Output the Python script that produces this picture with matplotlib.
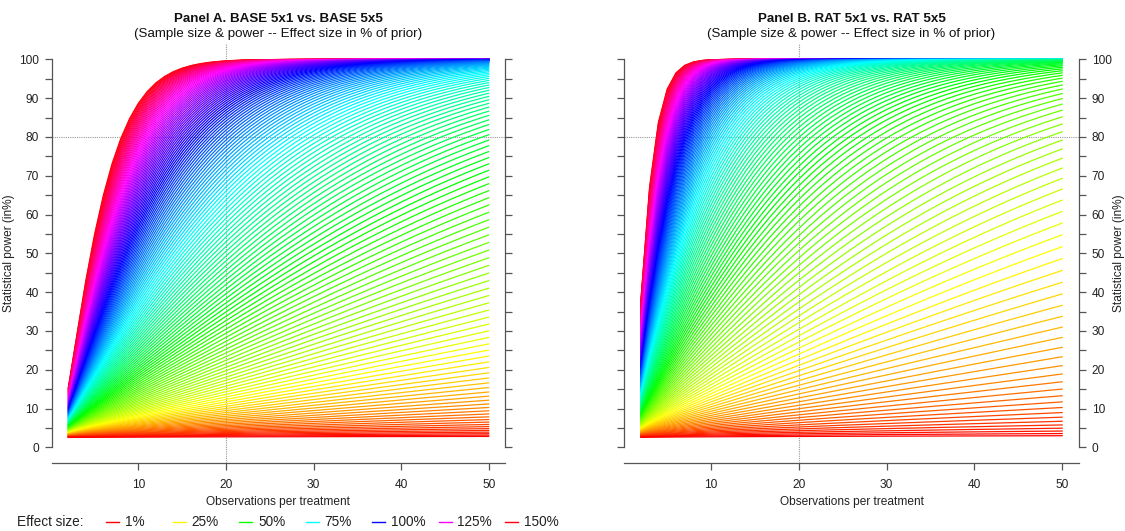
import math
import numpy as np
import matplotlib
matplotlib.use("Agg")
import matplotlib.pyplot as plt
from matplotlib.colors import hsv_to_rgb
from matplotlib.lines import Line2D

plt.rcParams['font.family'] = ['Liberation Sans', 'DejaVu Sans']

# effect sizes (in % of the prior effect) and observations per treatment
EFFECT_PCT = np.arange(1, 151)
N_OBS = np.arange(2, 51)
# prior standardised effect and degrees-of-freedom factor per panel,
# read from where the curves cross 80% and from the line ends at n = 50
PANELS = ['A', 'B']
PRIOR_D = [1.0, 1.55]
DF_MULT = [1.0, 1.6]
TITLES = ['Panel A. BASE 5x1 vs. BASE 5x5', 'Panel B. RAT 5x1 vs. RAT 5x5']
SUBTITLE = '(Sample size & power -- Effect size in % of prior)'
ALPHA = 0.05
LEGEND_PCT = [1, 25, 50, 75, 100, 125, 150]


def erfc(x):
    z = np.abs(x)
    t = 1.0 / (1.0 + 0.5 * z)
    r = t * np.exp(-z * z - 1.26551223 + t * (1.00002368 + t * (0.37409196 + t * (0.09678418 +
        t * (-0.18628806 + t * (0.27886807 + t * (-1.13520398 + t * (1.48851587 +
        t * (-0.82215223 + t * 0.17087277)))))))))
    return np.where(x >= 0, r, 2.0 - r)


def upper_norm(x):
    return 0.5 * erfc(x / math.sqrt(2.0))


def chi_weights(df, m=3000):
    umax = 1 + 14 * math.sqrt(2.0 / df) + 20.0 / df
    u = np.linspace(0, umax, m + 1)[1:]
    logf = ((df / 2 - 1) * np.log(df * u) - df * u / 2 - (df / 2) * math.log(2)
            - math.lgamma(df / 2) + math.log(df))
    w = np.exp(logf)
    return np.sqrt(u), w / w.sum()


def t_power(d, n, df_mult):
    # two-sample t test, two-sided alpha, upper tail only (like R power.t.test)
    df = df_mult * (2 * n - 2)
    s, w = chi_weights(df)
    lo, hi = 0.0, 30.0
    for _ in range(60):
        mid = 0.5 * (lo + hi)
        if (upper_norm(mid * s) * w).sum() > ALPHA / 2:
            lo = mid
        else:
            hi = mid
    tcrit = 0.5 * (lo + hi)
    ncp = d * math.sqrt(n / 2.0)
    return upper_norm(tcrit * s[None, :] - ncp[:, None]) @ w


colors = hsv_to_rgb(np.column_stack([np.arange(len(EFFECT_PCT)) / len(EFFECT_PCT),
                                     np.ones(len(EFFECT_PCT)), np.ones(len(EFFECT_PCT))]))

fig = plt.figure(figsize=(11.25, 5.31), dpi=100)
axes_pos = [[0.0458, 0.1284, 0.4035, 0.789], [0.5547, 0.1284, 0.4044, 0.789]]
axis_col = '#555555'

for k, panel in enumerate(PANELS):
    ax = fig.add_axes(axes_pos[k])
    d = PRIOR_D[k] * EFFECT_PCT / 100.0
    power = np.column_stack([t_power(d, n, DF_MULT[k]) for n in N_OBS]) * 100

    for i in range(len(EFFECT_PCT) - 1, -1, -1):
        ax.plot(N_OBS, power[i], color=colors[i], lw=0.9, solid_joinstyle='round')

    ax.axhline(80, color='#999999', lw=0.8, ls=(0, (1, 1)), zorder=0.5)
    ax.axvline(20, color='#999999', lw=0.8, ls=(0, (1, 1)), zorder=0.5)

    ax.set_xlim(0.08, 51.92)
    ax.set_ylim(-4, 104)
    ax.spines['top'].set_visible(False)
    for sp in ['left', 'right', 'bottom']:
        ax.spines[sp].set_color(axis_col)
        ax.spines[sp].set_linewidth(0.9)
    ax.spines['left'].set_bounds(0, 100)
    ax.spines['right'].set_bounds(0, 100)

    ax.set_xticks([10, 20, 30, 40, 50])
    ax.set_yticks(np.arange(0, 101, 10))
    ax.set_yticks(np.arange(5, 100, 10), minor=True)
    ax.tick_params(axis='both', which='both', direction='out', length=4.7, width=0.9,
                   color=axis_col, labelsize=8.6, labelcolor='#222222')
    ax.tick_params(axis='x', pad=7)
    ax.tick_params(axis='y', which='both', left=True, right=True, pad=4.5)
    if k == 0:
        ax.tick_params(axis='y', labelleft=True, labelright=False)
        ax.set_ylabel('Statistical power (in%)', fontsize=8.6, color='#222222')
        ax.yaxis.set_label_coords(-0.081, 0.5)
    else:
        ax.tick_params(axis='y', labelleft=False, labelright=True)
        ax.yaxis.set_label_position('right')
        ax.set_ylabel('Statistical power (in%)', fontsize=8.6, color='#222222', rotation=90)
        ax.yaxis.set_label_coords(1.075, 0.5)
    ax.set_xlabel('Observations per treatment', fontsize=8.6, color='#222222')
    ax.xaxis.set_label_coords(0.5, -0.079)

    cx = axes_pos[k][0] + axes_pos[k][2] / 2
    fig.text(cx, 1 - 18.5 / 531, TITLES[k], ha='center', va='center',
             fontsize=9.6, fontweight='bold', color='#111111')
    fig.text(cx, 1 - 34 / 531, SUBTITLE, ha='center', va='center',
             fontsize=9.6, color='#111111')

# legend along the bottom
ly = 1 - 522 / 531
fig.text(17 / 1125, ly, 'Effect size:', ha='left', va='center', fontsize=9.8, color='#222222')
for j, pct in enumerate(LEGEND_PCT):
    x0 = 106 + 66.5 * j
    col = colors[pct - 1]
    fig.add_artist(Line2D([x0 / 1125, (x0 + 13) / 1125], [ly, ly], color=col, lw=1.0,
                          transform=fig.transFigure))
    fig.text((x0 + 19) / 1125, ly, f'{pct}%', ha='left', va='center', fontsize=9.8,
             color='#222222')

fig.savefig('out.png', dpi=100)
